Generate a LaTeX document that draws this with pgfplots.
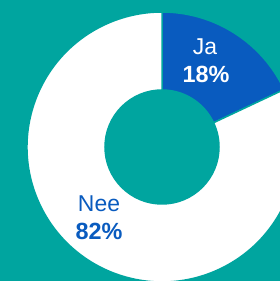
\documentclass[border=0pt]{standalone}
\usepackage{pgfplots}
\pgfplotsset{compat=1.18}
\usepackage{pgfplotstable}
\usepackage{fontspec}
\setmainfont{Liberation Sans}
\definecolor{bgteal}{HTML}{00A59F}
\definecolor{jablue}{HTML}{095BBF}
\pgfplotstableread{
label value
Ja 18
Nee 82
}\piedata
\begin{document}
\begin{tikzpicture}
\pgfplotstablegetelem{0}{value}\of\piedata \pgfmathsetmacro{\va}{\pgfplotsretval}
\pgfplotstablegetelem{1}{value}\of\piedata \pgfmathsetmacro{\vb}{\pgfplotsretval}
\pgfmathsetmacro{\aA}{90}
\pgfmathsetmacro{\aB}{90-3.6*\va}
\pgfmathsetmacro{\aC}{\aB-3.6*\vb}
\def\R{135bp}
\def\r{57bp}
\begin{axis}[
  width=280bp, height=281bp, scale only axis,
  xmin=0, xmax=280, ymin=0, ymax=281,
  hide axis, clip=true,
]
\fill[bgteal] (axis cs:0,0) rectangle (axis cs:280,281);
\coordinate (C) at (axis cs:162,134);
\filldraw[fill=jablue, draw=bgteal, line width=1.5bp]
  (C) ++(\aA:\R) arc[start angle=\aA, end angle=\aB, radius=\R]
  -- ([shift={(\aB:\r)}]C) arc[start angle=\aB, end angle=\aA, radius=\r] -- cycle;
\filldraw[fill=white, draw=bgteal, line width=1.5bp]
  (C) ++(\aB:\R) arc[start angle=\aB, end angle=\aC, radius=\R]
  -- ([shift={(\aC:\r)}]C) arc[start angle=\aC, end angle=\aB, radius=\r] -- cycle;
\node[text=white, font=\fontsize{23}{27}\selectfont, anchor=base] at (axis cs:205,226) {Ja};
\node[text=white, font=\fontsize{23.5}{27}\selectfont\bfseries, anchor=base] at (axis cs:206,198) {18\%};
\node[text=jablue, font=\fontsize{23}{27}\selectfont, anchor=base] at (axis cs:99,69) {Nee};
\node[text=jablue, font=\fontsize{23.5}{27}\selectfont\bfseries, anchor=base] at (axis cs:99,41) {82\%};
\end{axis}
\pgfresetboundingbox
\path (current axis.south west) rectangle (current axis.north east);
\end{tikzpicture}
\end{document}
